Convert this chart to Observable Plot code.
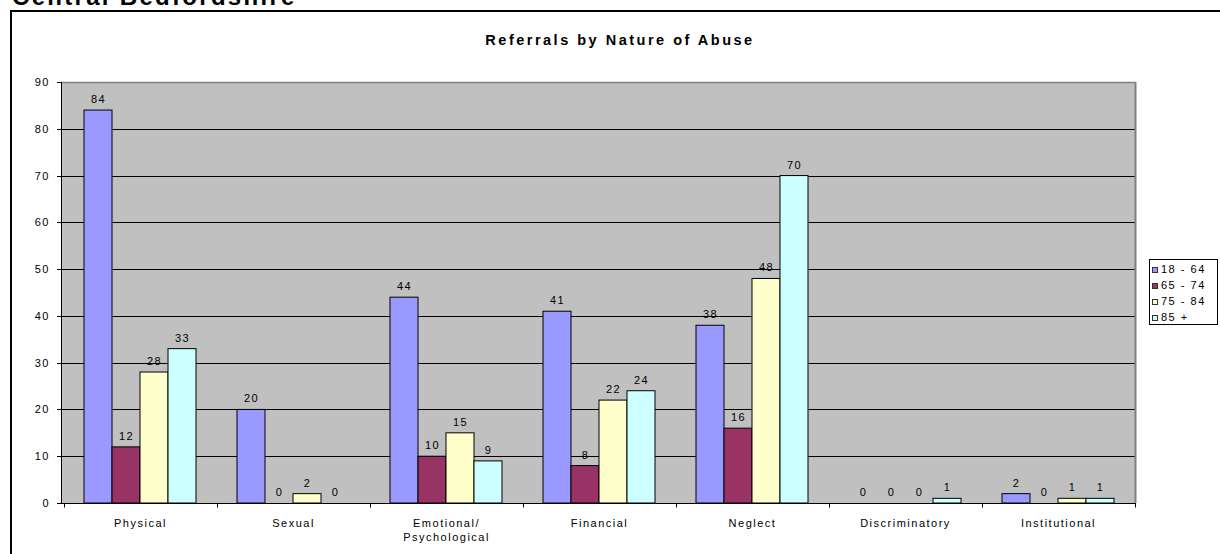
<!DOCTYPE html>
<html>
<head>
<meta charset="utf-8">
<script src="https://cdn.jsdelivr.net/npm/d3@7"></script>
<script src="https://cdn.jsdelivr.net/npm/@observablehq/plot@0.6"></script>
<style>
  html, body { margin: 0; padding: 0; background: #fff; }
  body { font-family: "Liberation Sans", Arial, sans-serif; color: #000; }
  #root { position: relative; width: 1220px; height: 554px; overflow: hidden; }
  #heading { position: absolute; left: 12px; top: -15px; font-size: 24px; font-weight: bold; line-height: 24px; letter-spacing: 2.3px; white-space: nowrap; }
  #outer { position: absolute; left: 10px; top: 10px; width: 1300px; height: 700px; border: 2px solid #000; box-sizing: border-box; }
  #chart { position: absolute; left: 0; top: 0; }
  #title { position: absolute; left: 420px; width: 400px; top: 33px; text-align: center; font-size: 14.5px; font-weight: bold; line-height: 14.5px; letter-spacing: 2.5px; white-space: nowrap; }
  #legend { position: absolute; left: 1149px; top: 259px; width: 69px; height: 66px; border: 1px solid #000; box-sizing: border-box; background: #fff; padding-top: 1px; }
  .row { height: 16px; line-height: 16px; font-size: 11px; letter-spacing: 1.5px; white-space: nowrap; padding-left: 2px; }
  .sw { display: inline-block; width: 6px; height: 6px; border: 1px solid #333; box-sizing: border-box; margin-right: 3px; vertical-align: 0px; }
</style>
</head>
<body>
<div id="root">
  <div id="heading">Central Bedfordshire</div>
  <div id="outer"></div>
  <div id="chart"></div>
  <div id="title">Referrals by Nature of Abuse</div>
  <div id="legend"></div>
</div>
<script>
const categories = ["Physical", "Sexual", "Emotional/\nPsychological", "Financial", "Neglect", "Discriminatory", "Institutional"];
const series = ["18 - 64", "65 - 74", "75 - 84", "85 +"];
const values18to64 = [84, 20, 44, 41, 38, 0, 2];
const values65to74 = [12, 0, 10, 8, 16, 0, 0];
const values75to84 = [28, 2, 15, 22, 48, 0, 1];
const values85plus = [33, 0, 9, 24, 70, 1, 1];
const seriesColors = ["#9999FF", "#993366", "#FFFFCC", "#CCFFFF"];
const yTicks = [0, 10, 20, 30, 40, 50, 60, 70, 80, 90];

const seriesValues = [values18to64, values65to74, values75to84, values85plus];
const data = [];
categories.forEach((c, i) => {
  series.forEach((s, j) => data.push({category: c, series: s, value: seriesValues[j][i]}));
});

// Background, gridlines, y axis and category boundary ticks spanning the whole plot area,
// drawn once (super facet) from Plot's own y and fx scales.
function backdrop() {
  return Plot.frame({
    facet: "super",
    fill: "none",
    stroke: null,
    render(index, scales, values, dims, context, next) {
      const sel = d3.create("svg:g");
      const y = scales.y, fx = scales.fx;
      const [L, R] = fx.range();
      const [B, T] = y.range();
      const line = (x1, y1, x2, y2, stroke, w) => sel.append("line")
        .attr("x1", x1).attr("y1", y1).attr("x2", x2).attr("y2", y2)
        .attr("stroke", stroke).attr("stroke-width", w);
      sel.append("rect").attr("x", L).attr("y", T).attr("width", R - L).attr("height", B - T).attr("fill", "#C0C0C0");
      // gridlines
      for (const t of yTicks) {
        if (t > 0 && t < yTicks[yTicks.length - 1]) line(L, Math.round(y(t)) + 0.5, R, Math.round(y(t)) + 0.5, "#000", 1);
      }
      // plot area borders
      line(L, Math.round(T) + 0.5, R, Math.round(T) + 0.5, "#808080", 1.5);
      line(Math.round(R) - 0.5, T, Math.round(R) - 0.5, B, "#808080", 2);
      // axis lines
      line(Math.round(L) + 0.5, T, Math.round(L) + 0.5, Math.round(B) + 0.5, "#000", 1);
      line(L, Math.round(y(0)) + 0.5, R, Math.round(y(0)) + 0.5, "#000", 1);
      // y ticks + labels
      for (const t of yTicks) {
        const yy = Math.round(y(t)) + 0.5;
        line(L - 4, yy, L, yy, "#000", 1);
        sel.append("text").attr("x", L - 11).attr("y", yy).attr("dy", "0.32em")
          .attr("text-anchor", "end").attr("fill", "#000").text(String(t));
      }
      // category boundary ticks
      const step = fx.step(), bw = fx.bandwidth();
      const xs = fx.domain().map(d => fx(d) - (step - bw) / 2);
      xs.push(xs[xs.length - 1] + step);
      const y0 = Math.round(y(0)) + 0.5;
      for (const x of xs) line(Math.round(x) + 0.5, y0, Math.round(x) + 0.5, y0 + 4, "#000", 1);
      return sel.node();
    }
  });
}

const plot = Plot.plot({
  width: 1220,
  height: 554,
  marginLeft: 61,
  marginRight: 84,
  marginTop: 82,
  marginBottom: 51,
  style: {fontFamily: "'Liberation Sans', Arial, sans-serif", fontSize: "11px", letterSpacing: "1.5px", background: "transparent", color: "#000", overflow: "visible"},
  fx: {domain: categories, paddingInner: 0.27, paddingOuter: 0.135, label: null},
  x: {domain: series, padding: 0, axis: null},
  y: {domain: [0, 90], axis: null},
  color: {domain: series, range: seriesColors},
  marks: [
    backdrop(),
    Plot.barY(data, {fx: "category", x: "series", y: "value", fill: "series", stroke: "#000", strokeWidth: 1}),
    Plot.text(data, {fx: "category", x: "series", y: "value", text: d => String(d.value), dy: -11, fill: "#000", fontSize: 11}),
    Plot.axisFx({anchor: "bottom", tickSize: 0, tickPadding: 14, lineHeight: 1.25, fontSize: 11, label: null})
  ]
});
document.getElementById("chart").appendChild(plot);

const colorScale = plot.scale("color");
const legend = document.getElementById("legend");
colorScale.domain.forEach((s, i) => {
  const row = document.createElement("div");
  row.className = "row";
  const sw = document.createElement("span");
  sw.className = "sw";
  sw.style.background = colorScale.range[i];
  row.appendChild(sw);
  row.appendChild(document.createTextNode(s));
  legend.appendChild(row);
});
</script>
</body>
</html>
